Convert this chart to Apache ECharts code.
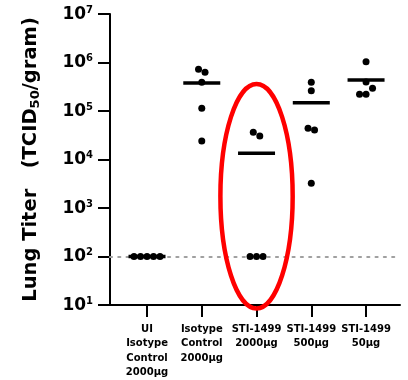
<!DOCTYPE html>
<html>
<head>
<meta charset="utf-8">
<script src="https://cdn.jsdelivr.net/npm/echarts@6/dist/echarts.min.js"></script>
<style>
  html, body { margin: 0; padding: 0; background: #ffffff; }
  #chart { width: 408px; height: 380px; }
</style>
</head>
<body>
<div id="chart"></div>
<script>
// Treatment groups along the x axis
const categories = [
  'UI\nIsotype\nControl\n2000µg',
  'Isotype\nControl\n2000µg',
  'STI-1499\n2000µg',
  'STI-1499\n500µg',
  'STI-1499\n50µg'
];

// Lung titer per animal (TCID50/gram)
const uiIsotype      = [100, 100, 100, 100, 100];
const isotypeControl = [730000, 630000, 390000, 114000, 24000];
const sti1499_2000   = [36400, 30500, 100, 100, 100];
const sti1499_500    = [391000, 262000, 44000, 40600, 3230];
const sti1499_50     = [1040000, 394000, 294000, 221000, 221000];

// Group means (horizontal bars)
const groupMeans = [100, 378000, 13400, 148000, 434000];

// Limit of detection
const detectionLimit = 100;

// Y axis range (log10)
const yMin = 10;
const yMax = 10000000;

const groups = [uiIsotype, isotypeControl, sti1499_2000, sti1499_500, sti1499_50];

const FONT = 'DejaVu Sans';
const chart = echarts.init(document.getElementById('chart'), null, { renderer: 'canvas' });

const baseOption = {
  animation: false,
  backgroundColor: '#ffffff',
  grid: { left: 110, right: 8, top: 14, bottom: 75, containLabel: false },
  xAxis: {
    type: 'value',
    min: -0.676,
    max: 4.62,
    splitLine: { show: false },
    axisLine: { show: true, onZero: false, lineStyle: { color: '#000', width: 2 } },
    axisTick: {
      show: true, length: 12, customValues: [0, 1, 2, 3, 4],
      lineStyle: { color: '#000', width: 2 }
    },
    axisLabel: {
      customValues: [0, 1, 2, 3, 4],
      formatter: v => categories[Math.round(v)],
      color: '#000', fontFamily: FONT, fontWeight: 'bold', fontSize: 10,
      lineHeight: 14.5, margin: 17, align: 'center'
    }
  },
  yAxis: {
    type: 'log',
    logBase: 10,
    min: yMin,
    max: yMax,
    splitNumber: 6,
    splitLine: { show: false },
    axisLine: { show: true, onZero: false, lineStyle: { color: '#000', width: 2 } },
    axisTick: { show: true, length: 12, lineStyle: { color: '#000', width: 2 } },
    axisLabel: {
      margin: 17,
      formatter: v => '{b|10}{e|' + Math.round(Math.log10(v)) + '}',
      rich: {
        b: { fontFamily: FONT, fontWeight: 'bold', fontSize: 17, lineHeight: 18, color: '#000', verticalAlign: 'bottom' },
        e: { fontFamily: FONT, fontWeight: 'bold', fontSize: 10, lineHeight: 12, color: '#000', verticalAlign: 'top' }
      }
    },
    name: '{a|Lung Titer   (TCID}{s|50}{a|/gram)}',
    nameLocation: 'middle',
    nameGap: 68,
    nameTextStyle: {
      rich: {
        a: { fontFamily: FONT, fontWeight: 'bold', fontSize: 19.5, lineHeight: 21, color: '#000', verticalAlign: 'top' },
        s: { fontFamily: FONT, fontWeight: 'bold', fontSize: 13, lineHeight: 13, color: '#000', verticalAlign: 'bottom' }
      }
    }
  },
  series: []
};

chart.setOption(baseOption);

// Spread animals horizontally so overlapping dots stay visible
function swarmOffsets(values, step, minDist) {
  const pts = values.map((v, i) => ({ i, y: chart.convertToPixel({ yAxisIndex: 0 }, v), x: 0 }));
  const order = pts.slice().sort((a, b) => a.y - b.y);
  const placed = [];
  order.forEach(p => {
    for (let k = 0; k < 40; k++) {
      const c = k === 0 ? 0 : (k % 2 === 1 ? 1 : -1) * Math.ceil(k / 2) * step;
      if (placed.every(q => Math.hypot(q.x - c, q.y - p.y) >= minDist - 1e-6)) {
        p.x = c; placed.push(p); break;
      }
    }
  });
  // centre each cluster of touching dots on the group line
  let cluster = [];
  const flush = () => {
    if (cluster.length > 1) {
      const m = cluster.reduce((s, q) => s + q.x, 0) / cluster.length;
      cluster.forEach(q => { q.x -= m; });
    }
    cluster = [];
  };
  placed.forEach((p, idx) => {
    if (idx > 0 && p.y - placed[idx - 1].y >= minDist) flush();
    cluster.push(p);
  });
  flush();
  const out = new Array(values.length);
  pts.forEach(p => { out[p.i] = p.x; });
  return out;
}

const x0 = chart.convertToPixel({ xAxisIndex: 0 }, 0);
const x1 = chart.convertToPixel({ xAxisIndex: 0 }, 1);
const pxPerGroup = x1 - x0;

const dotData = [];
groups.forEach((vals, g) => {
  const offs = swarmOffsets(vals, 6.5, 6.5);
  vals.forEach((v, i) => dotData.push([g + offs[i] / pxPerGroup, v]));
});

const meanData = groupMeans.map((m, g) => [g, m]);

chart.setOption({
  series: [
    {
      name: 'mean',
      type: 'scatter',
      data: meanData,
      symbol: 'rect',
      symbolSize: [37, 3.5],
      itemStyle: { color: '#000', opacity: 1 },
      z: 3,
      silent: true,
      markLine: {
        silent: true,
        symbol: ['none', 'none'],
        label: { show: false },
        lineStyle: { color: '#a0a0a0', type: [2, 6.3], width: 2.2, cap: 'round', opacity: 1 },
        data: [{ yAxis: detectionLimit }],
        z: 1
      }
    },
    {
      name: 'animals',
      type: 'scatter',
      data: dotData,
      symbol: 'circle',
      symbolSize: 7,
      itemStyle: { color: '#000', opacity: 1 },
      z: 4,
      silent: true
    },
    {
      // red outline drawn round the STI-1499 2000µg group
      name: 'highlight',
      type: 'custom',
      coordinateSystem: 'cartesian2d',
      clip: false,
      silent: true,
      z: 10,
      data: [[2, 1000]],
      renderItem: (params, api) => {
        const g = api.value(0);
        const top = api.coord([g, 360000]);
        const bot = api.coord([g, 8.5]);
        const side = api.coord([g - 0.66, 1000]);
        return {
          type: 'ellipse',
          shape: {
            cx: top[0],
            cy: (top[1] + bot[1]) / 2,
            rx: top[0] - side[0],
            ry: (bot[1] - top[1]) / 2
          },
          style: { fill: 'none', stroke: '#ff0000', lineWidth: 4.5 }
        };
      }
    }
  ]
});
</script>
</body>
</html>
